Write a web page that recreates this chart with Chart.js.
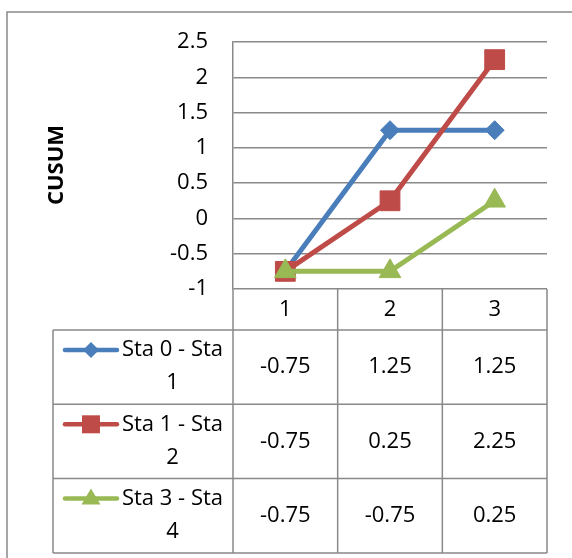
<!DOCTYPE html>
<html>
<head>
<meta charset="utf-8">
<script src="https://cdn.jsdelivr.net/npm/chart.js@4.4.0/dist/chart.umd.min.js"></script>
<style>
  html, body { margin: 0; padding: 0; background: #fff; }
</style>
</head>
<body>
<canvas id="cusum-chart" width="572" height="558"></canvas>
<script>
// chart values
const categories = ['1', '2', '3'];
const seriesNames = ['Sta 0 - Sta 1', 'Sta 1 - Sta 2', 'Sta 3 - Sta 4'];
const sta01 = [-0.75, 1.25, 1.25];
const sta12 = [-0.75, 0.25, 2.25];
const sta34 = [-0.75, -0.75, 0.25];
const yMin = -1;
const yMax = 2.5;
const yStep = 0.5;
const axisTitle = 'CUSUM';

const colors = ['#4A7EBB', '#BE4B48', '#98B954'];
const markers = ['rectRot', 'rect', 'triangle'];
const markerSize = [9.5, 14, 12.5];
const gridColor = '#898989';
const FONT = '"Open Sans", "Noto Sans", sans-serif';

// legend key shapes for the table cells
function drawKey(ctx, style, cx, cy, color) {
    ctx.fillStyle = color;
    ctx.beginPath();
    if (style == 'rectRot') {
        ctx.moveTo(cx, cy - 8); ctx.lineTo(cx + 8, cy); ctx.lineTo(cx, cy + 8); ctx.lineTo(cx - 8, cy);
    } else if (style == 'rect') {
        ctx.rect(cx - 9, cy - 9, 18, 18);
    } else {
        ctx.moveTo(cx, cy - 10); ctx.lineTo(cx + 9.5, cy + 6); ctx.lineTo(cx - 9.5, cy + 6);
    }
    ctx.closePath();
    ctx.fill();
}

function wrapText(ctx, text, maxW) {
    const words = text.split(' ');
    const lines = [];
    let cur = '';
    words.forEach(w => {
        const test = cur ? cur + ' ' + w : w;
        if (cur && ctx.measureText(test).width > maxW) {
            lines.push(cur);
            cur = w;
        } else {
            cur = test;
        }
    });
    if (cur) lines.push(cur);
    return lines;
}

const dataTable = {
    id: 'dataTable',
    afterDraw(chart) {
        const ctx = chart.ctx;
        const area = chart.chartArea;
        const xs = chart.scales.x;
        const headerH = 41;
        const rowH = 74.3;
        const legendLeft = area.left - 180;
        const headerBottom = area.bottom + headerH;
        const tableBottom = headerBottom + rowH * seriesNames.length;
        const rows = [sta01, sta12, sta34];

        const edges = [];
        for (let i = 0; i <= categories.length; i++) {
            if (i == 0) edges.push(area.left);
            else if (i == categories.length) edges.push(area.right);
            else edges.push((xs.getPixelForValue(i - 1) + xs.getPixelForValue(i)) / 2);
        }

        ctx.save();
        // outer chart border
        ctx.strokeStyle = gridColor;
        ctx.lineWidth = 1.5;
        ctx.strokeRect(7, 12, 600, 600);

        // table lines
        ctx.beginPath();
        edges.forEach(e => { ctx.moveTo(e, area.bottom); ctx.lineTo(e, tableBottom); });
        ctx.moveTo(legendLeft, headerBottom); ctx.lineTo(legendLeft, tableBottom);
        for (let r = 0; r <= seriesNames.length; r++) {
            const y = headerBottom + r * rowH;
            ctx.moveTo(legendLeft, y); ctx.lineTo(area.right, y);
        }
        ctx.stroke();

        ctx.fillStyle = '#000';
        ctx.font = '22px ' + FONT;
        ctx.textAlign = 'center';
        ctx.textBaseline = 'middle';
        categories.forEach((c, i) => {
            ctx.fillText(c, xs.getPixelForValue(i), area.bottom + headerH / 2);
        });

        rows.forEach((vals, r) => {
            const top = headerBottom + r * rowH;
            vals.forEach((v, i) => {
                ctx.fillStyle = '#000';
                ctx.fillText(String(v), xs.getPixelForValue(i), top + rowH / 2);
            });

            // legend cell: key + wrapped name
            const lines = wrapText(ctx, seriesNames[r], 110);
            const keyW = 56;
            const w1 = ctx.measureText(lines[0]).width;
            const blockW = keyW + 3 + w1;
            const startX = (legendLeft + area.left) / 2 - blockW / 2;
            const textCx = startX + keyW + 3 + w1 / 2;
            const y1 = top + 20;
            ctx.strokeStyle = colors[r];
            ctx.lineWidth = 4.5;
            ctx.lineCap = 'round';
            ctx.beginPath();
            ctx.moveTo(startX + 2, y1); ctx.lineTo(startX + keyW - 2, y1);
            ctx.stroke();
            drawKey(ctx, markers[r], startX + keyW / 2, y1, colors[r]);
            ctx.fillStyle = '#000';
            lines.forEach((ln, k) => ctx.fillText(ln, textCx, y1 + k * 33));
        });

        // axis title
        ctx.translate(57, 165);
        ctx.rotate(-Math.PI / 2);
        ctx.font = 'bold 22px ' + FONT;
        ctx.fillText(axisTitle, 0, 0);
        ctx.restore();
    }
};

const datasets = [sta01, sta12, sta34].map((d, i) => ({
    label: seriesNames[i],
    data: d,
    borderColor: colors[i],
    backgroundColor: colors[i],
    borderWidth: 5,
    tension: 0,
    pointStyle: markers[i],
    pointRadius: markerSize[i],
    pointHoverRadius: markerSize[i],
    pointBorderWidth: 1,
    order: 3 - i
}));

new Chart(document.getElementById('cusum-chart'), {
    type: 'line',
    data: { labels: categories, datasets: datasets },
    options: {
        responsive: false,
        animation: false,
        events: [],
        layout: { padding: { left: 0, top: 42, right: 25, bottom: 269 } },
        plugins: { legend: { display: false }, tooltip: { enabled: false } },
        scales: {
            x: { type: 'category', offset: true, display: false },
            y: {
                min: yMin,
                max: yMax,
                afterFit: (scale) => { scale.width = 233; },
                ticks: {
                    stepSize: yStep,
                    padding: 25,
                    color: '#000',
                    font: { family: FONT, size: 22 },
                    callback: (v) => String(v)
                },
                grid: { color: gridColor, lineWidth: 1.5, drawTicks: false },
                border: { display: true, color: gridColor, width: 1.5 }
            }
        }
    },
    plugins: [dataTable]
});
</script>
</body>
</html>
